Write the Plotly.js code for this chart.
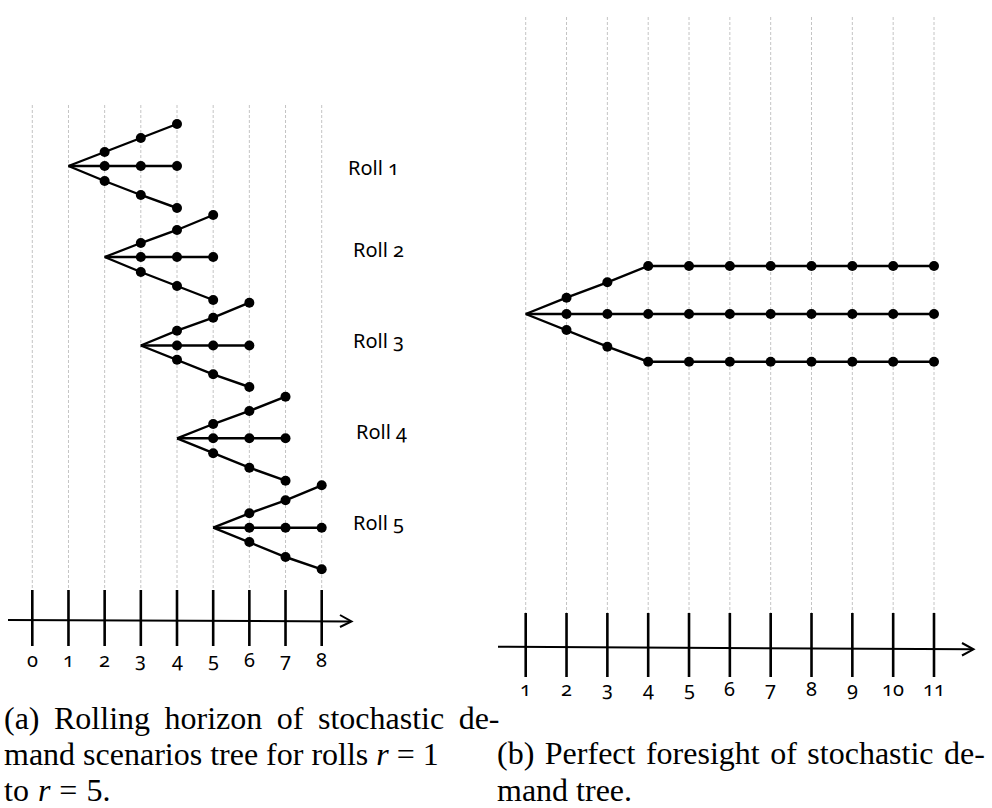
<!DOCTYPE html>
<html>
<head>
<meta charset="utf-8">
<script src="https://cdn.plot.ly/plotly-3.0.1.min.js"></script>
<style>
html,body{margin:0;padding:0;background:#fff;}
#chart{width:992px;height:808px;}
.annotation-text{font-feature-settings:"onum" 1;}
.annotation[data-index="25"] text{word-spacing:6.5px;}
.annotation[data-index="27"] text{word-spacing:1px;}
.annotation[data-index="28"] text{word-spacing:2.5px;}
</style>
</head>
<body>
<div id="chart"></div>
<script>
// ---------- Panel (a): rolling horizon ----------
const leftTicks = [0, 1, 2, 3, 4, 5, 6, 7, 8];
const leftTickLabels = ['0', '1', '2', '3', '4', '5', '6', '7', '8'];
const rollNames = ['Roll 1', 'Roll 2', 'Roll 3', 'Roll 4', 'Roll 5'];
const rollSteps = [[1, 2, 3, 4], [2, 3, 4, 5], [3, 4, 5, 6], [4, 5, 6, 7], [5, 6, 7, 8]];
// vertical level of the nodes (screen rows, top = 0)
const rollUp   = [[166, 152, 138, 124], [257, 243, 230, 215], [345.5, 330.7, 317.7, 302.7], [438.3, 424, 411, 396.7], [527.7, 513.3, 500.3, 485.3]];
const rollMid  = [[166, 166, 166, 166], [257, 257, 257, 257], [345.5, 345.5, 345.5, 345.5], [438.3, 438.3, 438.3, 438.3], [527.7, 527.7, 527.7, 527.7]];
const rollDown = [[166, 181, 195, 208], [257, 272, 286, 300], [345.5, 359.7, 374.3, 387], [438.3, 453.3, 467.7, 480.7], [527.7, 542, 557, 569.3]];

// ---------- Panel (b): perfect foresight ----------
const rightTicks = [1, 2, 3, 4, 5, 6, 7, 8, 9, 10, 11];
const rightTickLabels = ['1', '2', '3', '4', '5', '6', '7', '8', '9', '10', '11'];
const pfSteps = [1, 2, 3, 4, 5, 6, 7, 8, 9, 10, 11];
const pfUp   = [314, 297.7, 282.3, 266, 266, 266, 266, 266, 266, 266, 266];
const pfMid  = [314, 314, 314, 314, 314, 314, 314, 314, 314, 314, 314];
const pfDown = [314, 330, 346.7, 361.7, 361.7, 361.7, 361.7, 361.7, 361.7, 361.7, 361.7];

// ---------- Captions ----------
const captionA = ['(a) Rolling horizon of stochastic de-', 'mand scenarios tree for rolls <i>r</i> = 1', 'to <i>r</i> = 5.'];
const captionB = ['(b) Perfect foresight of stochastic de-', 'mand tree.'];

// ---------- geometry helpers (pixel <-> data for layout pieces) ----------
const W = 992, H = 808;
const L = {px0: 32.3, s: 36.175};   // panel a: x=0 at px 32.3
const R = {px0: 525.7, s: 40.83, v0: 1}; // panel b: x=1 at px 525.7
const lx = px => (px - L.px0) / L.s;
const rx = px => R.v0 + (px - R.px0) / R.s;

const traces = [];
const lineStyle = {color: '#000', width: 2.4};
function addBranch(xs, ys, axis) {
  traces.push({
    x: xs, y: ys, xaxis: axis, yaxis: 'y', type: 'scatter', mode: 'lines+markers',
    line: lineStyle, cliponaxis: false,
    marker: {color: '#000', opacity: 1, size: xs.map((v, i) => i === 0 ? 0 : 10), line: {width: 0}},
    hoverinfo: 'skip'
  });
}
for (let r = 0; r < rollNames.length; r++) {
  addBranch(rollSteps[r], rollUp[r], 'x');
  addBranch(rollSteps[r], rollMid[r], 'x');
  addBranch(rollSteps[r], rollDown[r], 'x');
}
addBranch(pfSteps, pfUp, 'x2');
addBranch(pfSteps, pfMid, 'x2');
addBranch(pfSteps, pfDown, 'x2');

const shapes = [];
const grid = {color: '#c4c4c4', width: 1, dash: '3px,2px'};
leftTicks.forEach(t => {
  shapes.push({type: 'line', xref: 'x', yref: 'y', x0: t, x1: t, y0: 105, y1: 590, line: grid, layer: 'below'});
  shapes.push({type: 'line', xref: 'x', yref: 'y', x0: t, x1: t, y0: 590, y1: 646, line: {color: '#000', width: 2.6}});
});
rightTicks.forEach(t => {
  shapes.push({type: 'line', xref: 'x2', yref: 'y', x0: t, x1: t, y0: 17, y1: 613, line: grid, layer: 'below'});
  shapes.push({type: 'line', xref: 'x2', yref: 'y', x0: t, x1: t, y0: 613, y1: 677, line: {color: '#000', width: 2.6}});
});
// time axes with open arrow heads
shapes.push({type: 'line', xref: 'x', yref: 'y', x0: lx(8), x1: lx(351), y0: 620, y1: 621.5, line: {color: '#000', width: 2}});
shapes.push({type: 'path', xref: 'x', yref: 'y',
  path: `M ${lx(340)} 615 L ${lx(351.5)} 621.5 L ${lx(340)} 627`, line: {color: '#000', width: 2}});
shapes.push({type: 'line', xref: 'x2', yref: 'y', x0: rx(498), x1: rx(973), y0: 646.7, y1: 649.3, line: {color: '#000', width: 2}});
shapes.push({type: 'path', xref: 'x2', yref: 'y',
  path: `M ${rx(962)} 643 L ${rx(973.5)} 649.3 L ${rx(962)} 655.5`, line: {color: '#000', width: 2}});

const annotations = [];
const labFont = {family: 'Noto Sans, sans-serif', size: 20, color: '#000'};
leftTicks.forEach((t, i) => annotations.push({
  xref: 'x', yref: 'y', x: t, y: 659.5, text: leftTickLabels[i], showarrow: false,
  xanchor: 'center', yanchor: 'middle', font: labFont
}));
rightTicks.forEach((t, i) => annotations.push({
  xref: 'x2', yref: 'y', x: t, y: 688.5, text: rightTickLabels[i], showarrow: false,
  xanchor: 'center', yanchor: 'middle', font: labFont
}));
const rollLabelPx = [373.8, 378.3, 378, 381.7, 378.3];
const rollLabelY = [167, 249, 340.5, 431.5, 522.5];
rollNames.forEach((n, i) => annotations.push({
  xref: 'x', yref: 'y', x: lx(rollLabelPx[i]), y: rollLabelY[i], text: n, showarrow: false,
  xanchor: 'center', yanchor: 'middle', font: labFont
}));
const capFont = {family: 'Liberation Serif, serif', size: 32, color: '#000'};
const capAy = [717.5, 753.5, 789.5];
captionA.forEach((t, i) => annotations.push({
  xref: 'paper', yref: 'paper', x: 2 / W, y: 1 - capAy[i] / H, text: t, showarrow: false,
  xanchor: 'left', yanchor: 'middle', align: 'left', font: capFont
}));
const capBy = [752.5, 789.5];
captionB.forEach((t, i) => annotations.push({
  xref: 'paper', yref: 'paper', x: 495 / W, y: 1 - capBy[i] / H, text: t, showarrow: false,
  xanchor: 'left', yanchor: 'middle', align: 'left', font: capFont
}));

const layout = {
  width: W, height: H, margin: {l: 0, r: 0, t: 0, b: 0},
  paper_bgcolor: '#fff', plot_bgcolor: '#fff', showlegend: false,
  xaxis: {domain: [0, 0.5], range: [lx(0), lx(496)], visible: false, fixedrange: true},
  xaxis2: {domain: [0.5, 1], range: [rx(496), rx(992)], visible: false, anchor: 'y', fixedrange: true},
  yaxis: {domain: [0, 1], range: [H, 0], visible: false, fixedrange: true},
  shapes: shapes, annotations: annotations
};
Plotly.newPlot('chart', traces, layout, {staticPlot: true, displayModeBar: false});
</script>
</body>
</html>
